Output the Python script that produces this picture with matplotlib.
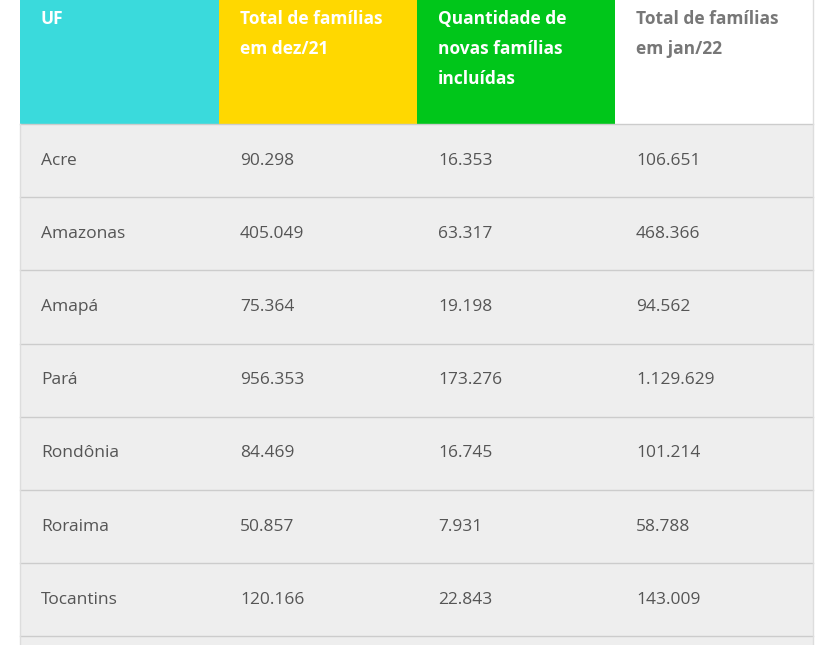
import matplotlib.pyplot as plt
from matplotlib.patches import Rectangle

headers = ['UF', 'Total de famílias\nem dez/21', 'Quantidade de\nnovas famílias\nincluídas', 'Total de famílias\nem jan/22']
header_colors = ['#3adadc', '#ffd800', '#00c61a', '#ffffff']
header_text_colors = ['white', 'white', 'white', '#777777']
states = ['Acre', 'Amazonas', 'Amapá', 'Pará', 'Rondônia', 'Roraima', 'Tocantins']
dez21 = ['90.298', '405.049', '75.364', '956.353', '84.469', '50.857', '120.166']
novas = ['16.353', '63.317', '19.198', '173.276', '16.745', '7.931', '22.843']
jan22 = ['106.651', '468.366', '94.562', '1.129.629', '101.214', '58.788', '143.009']

W, H = 833, 645
fig = plt.figure(figsize=(W / 100, H / 100), dpi=100)
ax = fig.add_axes([0, 0, 1, 1])
ax.set_xlim(0, W)
ax.set_ylim(H, 0)
ax.axis('off')

col_x = [20, 219, 417, 615, 813]
header_h = 124
row_h = 73.2
font = 'Open Sans'

# body background
ax.add_patch(Rectangle((20, header_h), 793, H - header_h, color='#eeeeee', lw=0))
for i, (c, tc, h) in enumerate(zip(header_colors, header_text_colors, headers)):
    ax.add_patch(Rectangle((col_x[i], 0), col_x[i + 1] - col_x[i], header_h, color=c, lw=0))
    ax.text(col_x[i] + 21, 10, h, color=tc, fontsize=12.5, fontweight='bold',
            family=font, va='top', ha='left', linespacing=1.85)
ax.plot([20, 813], [header_h, header_h], color='#cccccc', lw=1)

for r, row in enumerate(zip(states, dez21, novas, jan22)):
    y0 = header_h + r * row_h
    for i, val in enumerate(row):
        ax.text(col_x[i] + 21, y0 + row_h / 2, val, color='#555555', fontsize=12.5,
                family=font, va='center', ha='left')
    ax.plot([20, 813], [y0 + row_h, y0 + row_h], color='#cccccc', lw=1)

ax.plot([20, 20], [header_h, H], color='#dddddd', lw=1)
ax.plot([813, 813], [0, H], color='#dddddd', lw=1)

fig.savefig('out.png', dpi=100)
